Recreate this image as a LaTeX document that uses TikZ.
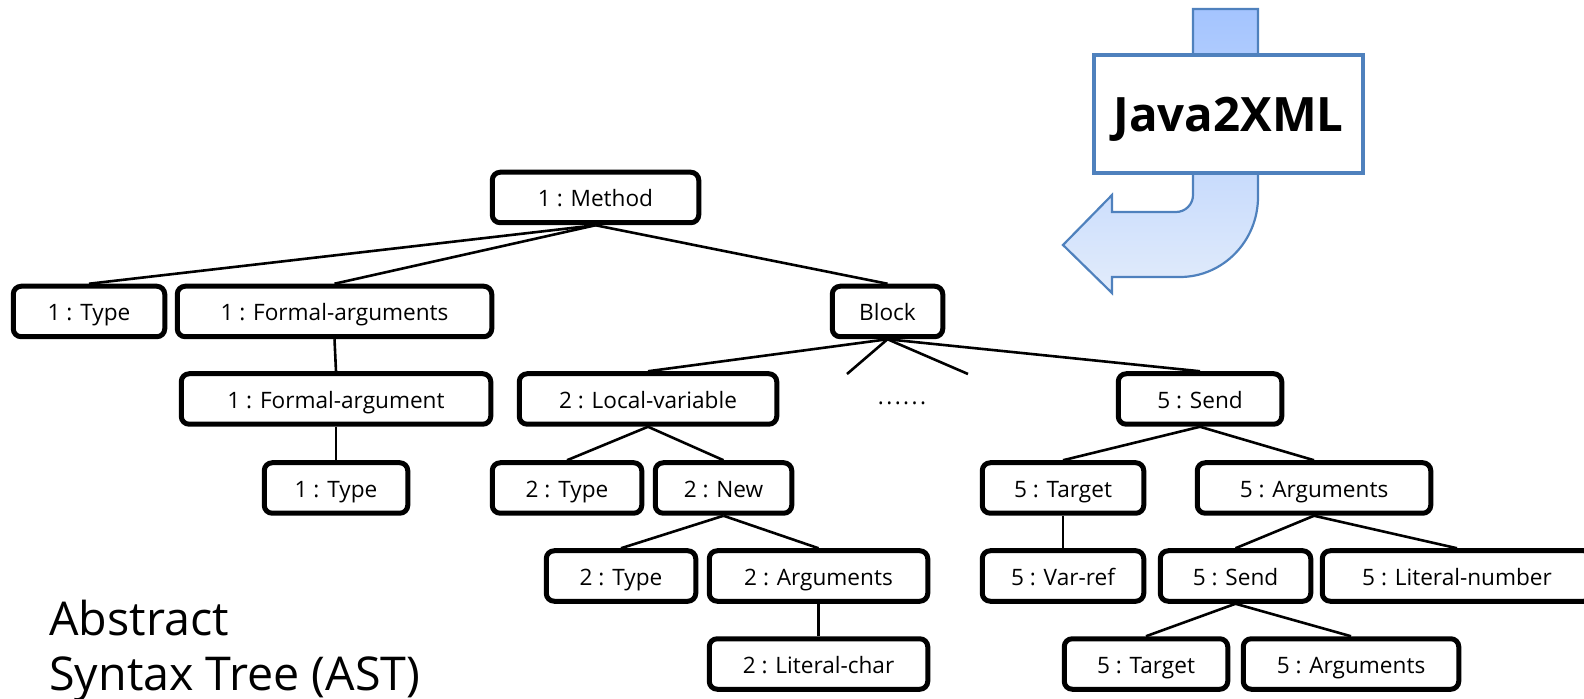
\documentclass[tikz,border=0pt]{standalone}
\usepackage{fontspec}
\setmainfont{Open Sans}
\definecolor{arrowline}{HTML}{4F81BD}
\definecolor{arrowtop}{HTML}{A4C4FE}
\definecolor{arrowbot}{HTML}{E2ECFB}
\begin{document}
\begin{tikzpicture}[x=0.5pt,y=-0.5pt,
  box/.style={draw, line width=2.5pt, rounded corners=4pt, fill=white,
    minimum height=25.25pt, inner sep=0pt, font=\fontsize{11.3}{13}\selectfont,
    text height=9.5pt, text depth=0pt},
  edge/.style={line width=1.3pt}]
\useasboundingbox (0,0) rectangle (1584,699);

% Java2XML arrow
\path[draw=arrowline, line width=1.1pt, top color=arrowtop, bottom color=arrowbot, line join=miter]
  (1193,9) -- (1193,195) .. controls (1193,204.4) and (1185.4,212) .. (1176,212)
  -- (1112,212) -- (1112,195) -- (1063,245) -- (1112,293) -- (1112,277) -- (1180,277)
  .. controls (1223,277) and (1258,241) .. (1258,197) -- (1258,9) -- cycle;
\node[draw=arrowline, line width=2pt, fill=white, minimum width=134.5pt, minimum height=59pt,
  inner sep=0pt, font=\bfseries\fontsize{23.7}{26}\selectfont, text height=18pt, text depth=0pt]
  (j2x) at (1228.5,114) {Java2XML};

% tree nodes
\node[box, minimum width=103.25pt] (method) at (595.5,197.5) {1 : Method};
\node[box, minimum width=75.75pt] (type1) at (89,311.5) {1 : Type};
\node[box, minimum width=157.25pt] (formals) at (334.5,311.5) {1 : Formal-arguments};
\node[box, minimum width=55.25pt] (block) at (887.5,311.5) {Block};
\node[box, minimum width=154.75pt] (formal) at (336,399) {1 : Formal-argument};
\node[box, minimum width=71.75pt] (type1b) at (336,488) {1 : Type};
\node[box, minimum width=128.75pt] (localvar) at (648,399) {2 : Local-variable};
\node[font=\fontsize{11.3}{13}\selectfont, inner sep=0pt, anchor=base] (dots) at (902,405)
  {.\kern1.2pt.\kern1.2pt.\kern1.2pt.\kern1.2pt.\kern1.2pt.};
\node[box, minimum width=81.75pt] (send5) at (1200,399) {5 : Send};
\node[box, minimum width=74.75pt] (type2) at (567,488) {2 : Type};
\node[box, minimum width=68.25pt] (new2) at (723.5,488) {2 : New};
\node[box, minimum width=80.75pt] (target5) at (1063,488) {5 : Target};
\node[box, minimum width=116.75pt] (args5) at (1314,488) {5 : Arguments};
\node[box, minimum width=74.75pt] (type2b) at (621,576) {2 : Type};
\node[box, minimum width=109.25pt] (args2) at (818.5,576) {2 : Arguments};
\node[box, minimum width=80.75pt] (varref5) at (1063,576) {5 : Var-ref};
\node[box, minimum width=75.25pt] (send5b) at (1235.5,576) {5 : Send};
\node[box, minimum width=134.75pt] (litnum) at (1457,576) {5 : Literal-number};
\node[box, minimum width=109.25pt] (litchar2) at (818.5,664) {2 : Literal-char};
\node[box, minimum width=81.75pt] (target5b) at (1146,664) {5 : Target};
\node[box, minimum width=107.75pt] (args5b) at (1351,664) {5 : Arguments};

\coordinate (stubL) at (847,374);
\coordinate (stubR) at (968,374);

% connectors
\draw[edge] (method.south) -- (type1.north);
\draw[edge] (method.south) -- (formals.north);
\draw[edge] (method.south) -- (block.north);
\draw[edge] (formals.south) -- (formal.north);
\draw[edge] (formal.south) -- (type1b.north);
\draw[edge] (block.south) -- (localvar.north);
\draw[edge] (block.south) -- (stubL);
\draw[edge] (block.south) -- (stubR);
\draw[edge] (block.south) -- (send5.north);
\draw[edge] (localvar.south) -- (type2.north);
\draw[edge] (localvar.south) -- (new2.north);
\draw[edge] (new2.south) -- (type2b.north);
\draw[edge] (new2.south) -- (args2.north);
\draw[edge] (args2.south) -- (litchar2.north);
\draw[edge] (send5.south) -- (target5.north);
\draw[edge] (send5.south) -- (args5.north);
\draw[edge] (target5.south) -- (varref5.north);
\draw[edge] (args5.south) -- (send5b.north);
\draw[edge] (args5.south) -- (litnum.north);
\draw[edge] (send5b.south) -- (target5b.north);
\draw[edge] (send5b.south) -- (args5b.north);

% caption
\node[anchor=base west, inner sep=0pt, font=\fontsize{23.3}{27}\selectfont] (cap1) at (49,635) {Abstract};
\node[anchor=base west, inner sep=0pt, font=\fontsize{23.3}{27}\selectfont] (cap2) at (49,690) {Syntax Tree (AST)};
\end{tikzpicture}
\end{document}
